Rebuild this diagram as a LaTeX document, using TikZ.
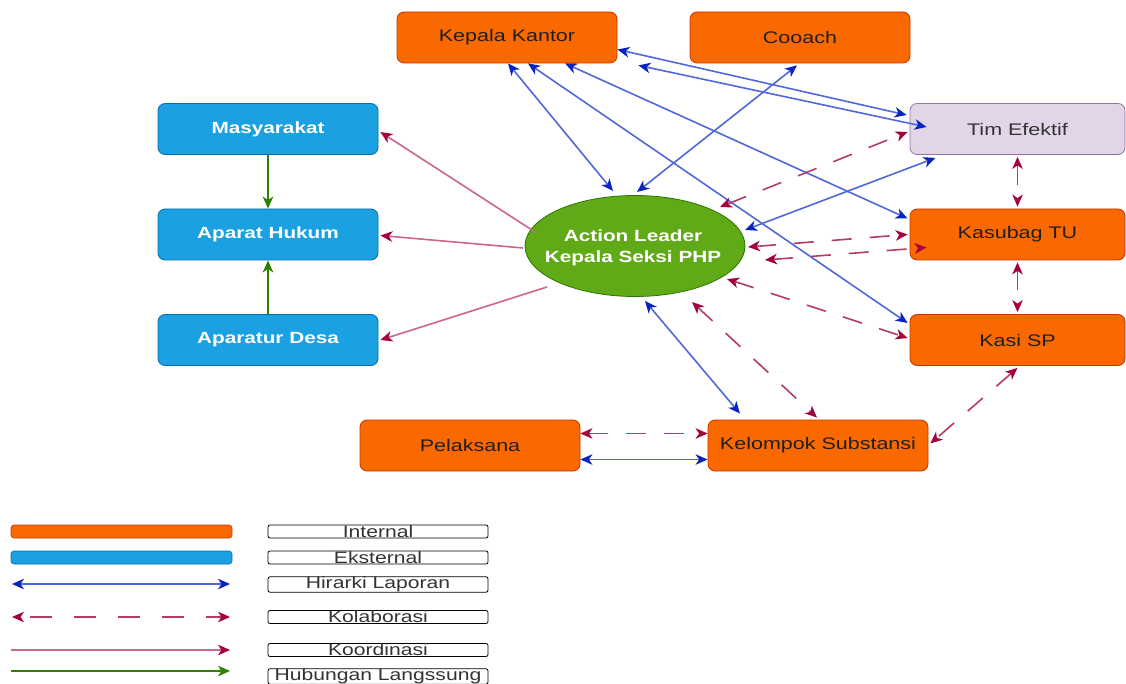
\documentclass[tikz,border=0pt]{standalone}
\usepackage{fontspec}
\setmainfont{Liberation Sans}[FakeStretch=1.28]
\usetikzlibrary{arrows.meta,shapes.geometric}
\definecolor{orgfill}{HTML}{FA6800}
\definecolor{orgline}{HTML}{C73500}
\definecolor{extfill}{HTML}{1BA1E2}
\definecolor{extline}{HTML}{006EAF}
\definecolor{timfill}{HTML}{E1D5E7}
\definecolor{timline}{HTML}{9673A6}
\definecolor{leadfill}{HTML}{60A917}
\definecolor{leadline}{HTML}{2D7600}
\definecolor{hirline}{HTML}{5068DA}
\definecolor{hirhead}{HTML}{0A24C2}
\definecolor{kolline}{HTML}{B43A68}
\definecolor{kolhead}{HTML}{A50040}
\definecolor{korline}{HTML}{CC6590}
\definecolor{hubline}{HTML}{2D8000}
\definecolor{darktext}{HTML}{333333}
\tikzset{
  hh/.tip={Stealth[length=12pt,width=10.5pt,inset=3.5pt,color=hirhead]},
  kh/.tip={Stealth[length=12pt,width=10.5pt,inset=3.5pt,color=kolhead]},
  gh/.tip={Stealth[length=12pt,width=10.5pt,inset=3.5pt,color=hubline]},
}
\begin{document}
\begin{tikzpicture}[x=1pt,y=-1pt,
  box/.style={rounded corners=7pt, minimum width=220pt, minimum height=51pt,
    inner sep=0pt, line width=0.8pt, font=\fontsize{16.8}{19}\selectfont},
  internal/.style={box, fill=orgfill, draw=orgline, text=black!88},
  rightbox/.style={minimum width=215pt},
  external/.style={box, fill=extfill, draw=extline, text=white,
    font=\fontsize{16.2}{19}\selectfont\bfseries},
  timbox/.style={box, rightbox, fill=timfill, draw=timline, text=darktext},
  leader/.style={ellipse, minimum width=220pt, minimum height=101pt, inner sep=0pt,
    fill=leadfill, draw=leadline, line width=0.8pt},
  leadertext/.style={inner sep=0pt, text=white, align=center,
    font=\fontsize{16.2}{20.5}\selectfont\bfseries},
  hir/.style={draw=hirline, line width=1.6pt, arrows={hh-hh}},
  kol/.style={draw=kolline, line width=1.6pt, dash pattern=on 20pt off 18pt, arrows={kh-kh}},
  kor/.style={draw=korline, line width=1.6pt, arrows={-kh}},
  hub/.style={draw=hubline, line width=1.6pt, arrows={-gh}},
  legbar/.style={rounded corners=3pt, minimum width=221pt, minimum height=13pt,
    inner sep=0pt, line width=0.6pt},
  legtext/.style={draw=black, rounded corners=2pt, minimum width=220pt, minimum height=13pt,
    inner sep=0pt, line width=0.8pt, text=darktext, font=\fontsize{16.5}{16}\selectfont},
]
\useasboundingbox[fill=white] (0,0) rectangle (1126,684);

% organisation units
\node[internal] (kk) at (507,37.5) {Kepala Kantor};
\node[internal] (co) at (800,37.5) {Cooach};
\node[timbox] (tim) at (1017.5,129) {Tim Efektif};
\node[internal,rightbox] (ktu) at (1017.5,234.5) {Kasubag TU};
\node[internal,rightbox] (ksp) at (1017.5,340) {Kasi SP};
\node[external] (ma) at (268,129) {Masyarakat};
\node[external] (ah) at (268,234.5) {Aparat Hukum};
\node[external] (ad) at (268,340) {Aparatur Desa};
\node[leader] (ell) at (635,246) {};
\node[leadertext] (elltxt) at ([xshift=-2pt,yshift=-2pt]ell.center) {Action Leader\\Kepala Seksi PHP};
\node[internal] (pl) at (470,445.5) {Pelaksana};
\node[internal] (ks) at (818,445.5) {Kelompok Substansi};

% reporting hierarchy
\draw[hir] ([xshift=1pt]kk.south) -- ([xshift=-22pt,yshift=55pt]ell.center);
\draw[hir] ([xshift=21pt]kk.south) -- ([xshift=-2pt,yshift=17pt]ksp.west);
\draw[hir] ([xshift=58pt]kk.south) -- ([xshift=-2pt,yshift=16pt]ktu.west);
\draw[hir] ([yshift=-12pt]kk.east) -- ([xshift=-3pt,yshift=14pt]tim.west);
\draw[hir] ([xshift=21pt,yshift=-2pt]kk.south east) -- ([xshift=17pt,yshift=2pt]tim.west);
\draw[hir] ([xshift=-3pt,yshift=-2pt]co.south) -- ([xshift=2pt,yshift=54pt]ell.center);
\draw[hir] ([xshift=110pt,yshift=16pt]ell.center) -- ([xshift=-82pt,yshift=-3pt]tim.south);
\draw[hir] ([xshift=10pt,yshift=-55pt]ell.center) -- ([xshift=-78pt,yshift=6pt]ks.north);
\draw[hir] ([yshift=-14pt]pl.east) -- ([yshift=-14pt]ks.west);

% collaboration
\draw[kol] ([xshift=85pt,yshift=39pt]ell.center) -- ([xshift=-2pt,yshift=-3pt]tim.west);
\draw[kol] ([xshift=113pt,yshift=-1pt]ell.center) -- ([xshift=-2pt]ktu.west);
\draw[kol] ([xshift=130pt,yshift=-14pt]ell.center) -- ([xshift=17pt,yshift=-13pt]ktu.west);
\draw[kol] ([xshift=92pt,yshift=-33pt]ell.center) -- ([xshift=-2pt,yshift=2pt]ksp.west);
\draw[kol] ([xshift=57pt,yshift=-56pt]ell.center) -- ([xshift=-1pt,yshift=2pt]ks.north);
\draw[kol] ([yshift=12pt]pl.east) -- ([yshift=12pt]ks.west);
\draw[kol] ([yshift=-2pt]ksp.south) -- ([xshift=2pt,yshift=2pt]ks.east);
\draw[kol] ([yshift=-2pt]tim.south) -- ([yshift=2pt]ktu.north);
\draw[kol] ([yshift=-2pt]ktu.south) -- ([yshift=2pt]ksp.north);

% coordination
\draw[kor] ([xshift=-100pt,yshift=14pt]ell.center) -- ([xshift=2pt,yshift=-3pt]ma.east);
\draw[kor] ([xshift=-112pt,yshift=-2pt]ell.center) -- ([xshift=2pt,yshift=-1pt]ah.east);
\draw[kor] ([xshift=-88pt,yshift=-41pt]ell.center) -- ([xshift=2pt]ad.east);

% direct relations
\draw[hub] (ma.south) -- (ah.north);
\draw[hub] (ad.north) -- (ah.south);

% legend
\node[legbar, fill=orgfill, draw=orgline] (lgint) at (121.5,531.5) {};
\node[legbar, fill=extfill, draw=extline] (lgext) at (121.5,557.5) {};
\coordinate (lh1) at (12,584);  \coordinate (lh2) at (230,584);
\coordinate (lk1) at (12,617);  \coordinate (lk2) at (230,617);
\coordinate (lr1) at (11,650);  \coordinate (lr2) at (230,650);
\coordinate (lg1) at (11,671);  \coordinate (lg2) at (230,671);
\draw[hir] (lh1) -- (lh2);
\draw[kol, dash pattern=on 22pt off 22pt, dash phase=-10pt] (lk1) -- (lk2);
\draw[kor] (lr1) -- (lr2);
\draw[hub] (lg1) -- (lg2);
\node[legtext] (tint) at (378,531.5) {Internal};
\node[legtext] (text) at (378,557.5) {Eksternal};
\node[legtext] (thir) at (378,584.5) {Hirarki Laporan};
\node[legtext] (tkol) at (378,617) {Kolaborasi};
\node[legtext] (tkor) at (378,650) {Koordinasi};
\node[legtext, minimum height=15pt] (thub) at (378,676.5) {Hubungan Langssung};
\end{tikzpicture}
\end{document}
